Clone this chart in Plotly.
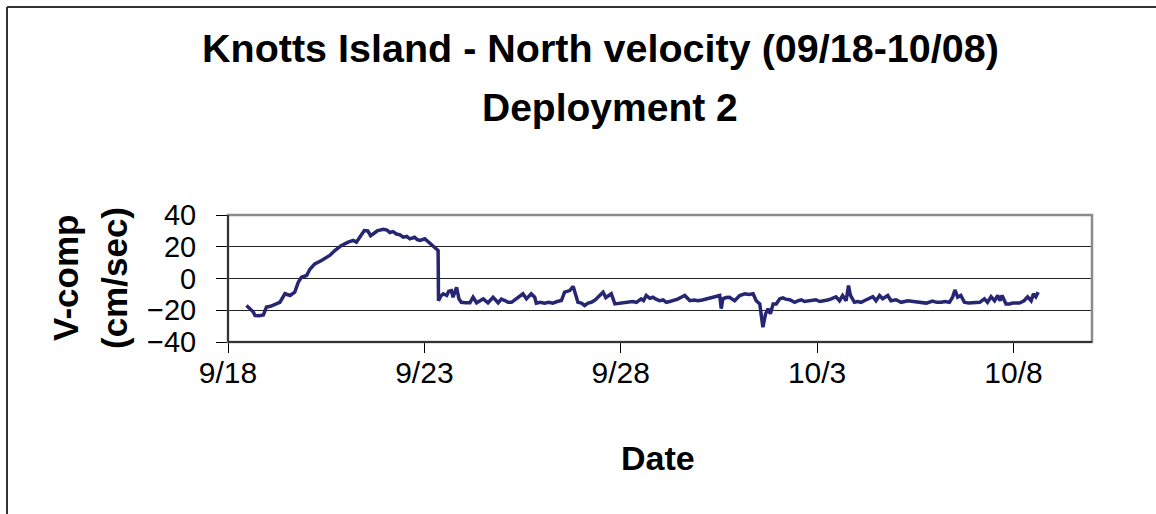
import pandas as pd
import plotly.graph_objects as go

# Days elapsed since 9/18 00:00
days = [0.47, 0.56, 0.64, 0.69, 0.8, 0.9, 0.98, 1.08, 1.2, 1.32, 1.45, 1.58, 1.7, 1.79, 1.87, 2.0,
        2.09, 2.21, 2.38, 2.59, 2.72, 2.89, 3.06, 3.19, 3.27, 3.36, 3.47, 3.56, 3.63, 3.72, 3.8, 3.95,
        4.05, 4.12, 4.2, 4.29, 4.38, 4.46, 4.55, 4.63, 4.75, 4.82, 4.89, 5.01, 5.14, 5.27, 5.35, 5.36,
        5.42, 5.48, 5.57, 5.62, 5.69, 5.73, 5.78, 5.82, 5.88, 5.94, 6.05, 6.16, 6.24, 6.33, 6.42, 6.5,
        6.62, 6.75, 6.88, 6.96, 7.05, 7.13, 7.22, 7.39, 7.51, 7.6, 7.72, 7.81, 7.85, 7.95, 8.06, 8.17,
        8.27, 8.38, 8.49, 8.57, 8.7, 8.79, 8.85, 8.91, 9.0, 9.08, 9.17, 9.25, 9.35, 9.42, 9.55, 9.62,
        9.68, 9.76, 9.85, 9.97, 10.08, 10.18, 10.3, 10.4, 10.52, 10.58, 10.65, 10.74, 10.82, 10.9, 10.99,
        11.08, 11.16, 11.25, 11.33, 11.45, 11.54, 11.63, 11.7, 11.76, 11.87, 11.97, 12.08, 12.18, 12.3,
        12.39, 12.52, 12.56, 12.6, 12.68, 12.77, 12.9, 13.03, 13.16, 13.27, 13.37, 13.45, 13.54, 13.58,
        13.62, 13.69, 13.75, 13.81, 13.88, 13.96, 14.05, 14.13, 14.2, 14.3, 14.43, 14.52, 14.6, 14.68,
        14.76, 14.86, 14.97, 15.07, 15.18, 15.27, 15.36, 15.48, 15.57, 15.65, 15.74, 15.8, 15.85, 15.95,
        16.03, 16.12, 16.2, 16.29, 16.42, 16.5, 16.59, 16.67, 16.8, 16.88, 17.01, 17.14, 17.22, 17.31,
        17.45, 17.6, 17.78, 17.94, 18.05, 18.16, 18.26, 18.37, 18.45, 18.51, 18.58, 18.66, 18.75, 18.86,
        18.96, 19.05, 19.14, 19.26, 19.34, 19.43, 19.52, 19.6, 19.66, 19.71, 19.81, 19.9, 19.98, 20.08,
        20.15, 20.27, 20.36, 20.45, 20.51, 20.57, 20.63]

v_comp = [-17, -19, -21, -23.3, -23.5, -23, -18, -17.5, -16, -15, -9.6, -10.7, -8.6, -2.3, 0.8, 1.9,
          6, 9.2, 11.3, 14.5, 17.6, 20.8, 22.9, 24, 22.9, 26, 30.2, 30, 27, 28.5, 30, 31,
          30.5, 29, 29.5, 28, 27.5, 26, 26.5, 25, 26, 24.5, 24, 25, 22, 18.7, 17.6, -14,
          -11, -9.6, -10.7, -8, -7.6, -11.8, -9, -5.5, -12.8, -15, -15.3, -15.3, -11.8, -15.3, -14, -12.8,
          -15.3, -11.8, -15.3, -13, -13.9, -15, -15, -11.8, -9.6, -12.8, -9.6, -11.8, -15.5, -15, -15.5, -15,
          -15.5, -14.5, -13.9, -8.6, -7.6, -5, -10.7, -15, -15.5, -17, -15.5, -15, -13.5, -11.8, -8.6, -12,
          -10.7, -9.6, -16, -15.5, -15, -15, -14.5, -15, -12.8, -13.9, -10.7, -12.5, -11.8, -13, -14,
          -13.5, -15, -14.5, -14, -13, -11.8, -10.7, -12.5, -14, -13.5, -14, -13.5, -12.8, -12,
          -11.8, -10.7, -19, -12.8, -12, -11.8, -14, -10.7, -9.6, -10, -9.6, -14, -16, -24.4,
          -30.7, -22.2, -19, -22.2, -16, -16, -12.8, -12.2, -13, -13.4, -15, -14, -13.4, -14.5,
          -14.2, -13.5, -13.4, -14.5, -14.2, -13.5, -12.8, -11.5, -14, -10.7, -14, -4.4, -10.7, -15,
          -14.5, -15, -14, -12.8, -11.5, -14, -10.7, -12.8, -10.7, -14, -13.4, -15, -14.5, -14,
          -14.5, -15, -15.5, -14.2, -15, -15, -14.5, -15, -11.8, -7.2, -11.8, -10.7, -15, -15.5,
          -15.5, -15, -15, -12.8, -15, -11.5, -14, -10.7, -14, -10.7, -16, -16, -15.5, -15.5,
          -15.5, -14, -11.5, -14, -9.6, -11.5, -8.6]

tick_dates = ["2004-09-18", "2004-09-23", "2004-09-28", "2004-10-03", "2004-10-08"]
tick_labels = ["9/18", "9/23", "9/28", "10/3", "10/8"]
y_ticks = [-40, -20, 0, 20, 40]

start = pd.Timestamp("2004-09-18")
times = start + pd.to_timedelta(days, unit="D")

FONT = "Arial, Liberation Sans, sans-serif"
W, H = 1156, 514
L, R, T, B = 228, 64, 215, 172
pw, ph = W - L - R, H - T - B

def px(x):
    return (x - L) / pw

def py(y):
    return (H - B - y) / ph

fig = go.Figure()
fig.add_trace(go.Scatter(x=times, y=v_comp, mode="lines",
                         line=dict(color="#262673", width=3.5), showlegend=False,
                         hoverinfo="x+y"))

fig.update_layout(
    width=W, height=H,
    margin=dict(l=L, r=R, t=T, b=B),
    paper_bgcolor="white", plot_bgcolor="white",
    font=dict(family=FONT, color="black"),
    xaxis=dict(type="date", range=["2004-09-18", "2004-10-10"],
               tickvals=tick_dates, ticktext=tick_labels,
               ticks="outside", ticklen=10, tickwidth=1, tickcolor="black",
               showgrid=False, zeroline=False, showline=False,
               tickfont=dict(size=30, family=FONT), ticklabelstandoff=-6),
    yaxis=dict(range=[-40, 40], tickvals=y_ticks,
               ticks="outside", ticklen=11, tickwidth=1, tickcolor="black",
               showgrid=True, gridcolor="#222222", gridwidth=1,
               zeroline=False, showline=False,
               tickfont=dict(size=29, family=FONT), ticklabelstandoff=14),
    shapes=[
        # plot area frame (gray top/right)
        dict(type="rect", xref="paper", yref="paper", x0=0, x1=1, y0=0, y1=1,
             line=dict(color="#8c8c8c", width=2.5), layer="above"),
        # left and bottom axis lines
        dict(type="line", xref="paper", yref="paper", x0=0, x1=0, y0=0, y1=1,
             line=dict(color="#333333", width=2), layer="above"),
        dict(type="line", xref="paper", yref="paper", x0=0, x1=1, y0=0, y1=0,
             line=dict(color="#333333", width=2), layer="above"),
        # outer chart border (left and top)
        dict(type="line", xref="paper", yref="paper", x0=px(7), x1=px(7), y0=py(H + 10), y1=py(7),
             line=dict(color="#333333", width=2)),
        dict(type="line", xref="paper", yref="paper", x0=px(7), x1=px(W + 10), y0=py(7), y1=py(7),
             line=dict(color="#333333", width=2)),
    ],
    annotations=[
        dict(text="<b>Knotts Island - North velocity (09/18-10/08)</b>", xref="paper", yref="paper",
             x=px(600), y=py(48), xanchor="center", yanchor="middle", showarrow=False,
             font=dict(size=39.5, family=FONT)),
        dict(text="<b>Deployment 2</b>", xref="paper", yref="paper",
             x=px(610), y=py(107), xanchor="center", yanchor="middle", showarrow=False,
             font=dict(size=39, family=FONT)),
        dict(text="<b>V-comp</b>", xref="paper", yref="paper", textangle=-90,
             x=px(65), y=py(278), xanchor="center", yanchor="middle", showarrow=False,
             font=dict(size=35, family=FONT)),
        dict(text="<b>(cm/sec)</b>", xref="paper", yref="paper", textangle=-90,
             x=px(114), y=py(278), xanchor="center", yanchor="middle", showarrow=False,
             font=dict(size=35, family=FONT)),
        dict(text="<b>Date</b>", xref="paper", yref="paper",
             x=px(658), y=py(458), xanchor="center", yanchor="middle", showarrow=False,
             font=dict(size=34, family=FONT)),
    ],
)

fig.write_html("out.html", config={"displayModeBar": False},
               post_script="document.body.style.margin='0';")
